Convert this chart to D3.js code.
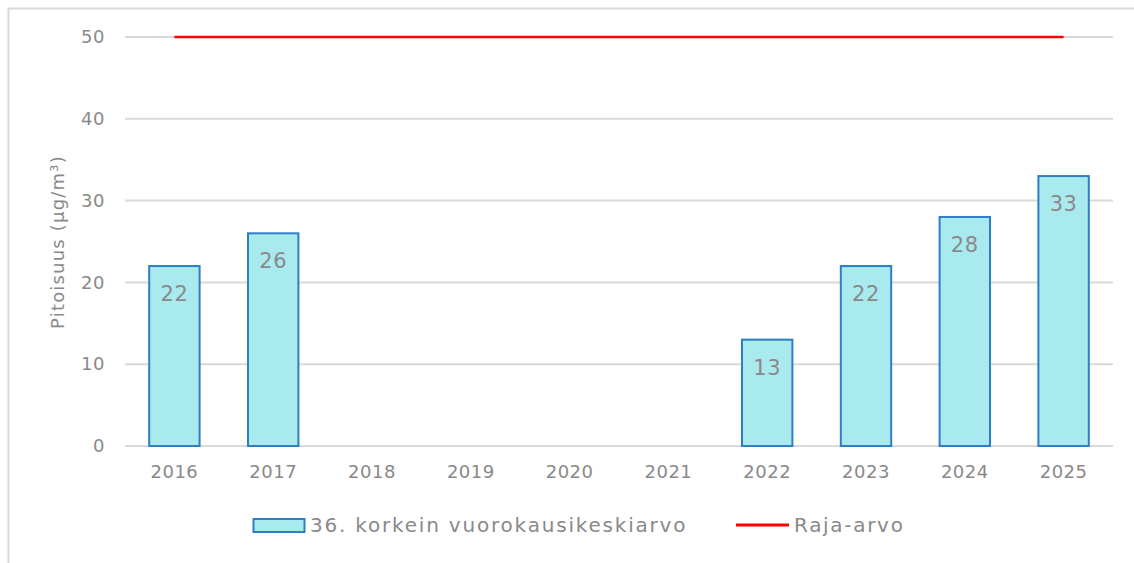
<!DOCTYPE html>
<html>
<head>
<meta charset="utf-8">
<script src="https://cdn.jsdelivr.net/npm/d3@7"></script>
<style>
  body { margin: 0; background: #fff; }
  svg { font-family: "DejaVu Sans", sans-serif; }
</style>
</head>
<body>
<svg id="svg" width="1134" height="563"></svg>
<script>
var years = ["2016", "2017", "2018", "2019", "2020", "2021", "2022", "2023", "2024", "2025"];
var values = [22, 26, null, null, null, null, 13, 22, 28, 33];
var limit = [50, 50, 50, 50, 50, 50, 50, 50, 50, 50];
var yTicks = [0, 10, 20, 30, 40, 50];

var svg = d3.select("#svg");
var textColor = "#898989";

// chart frame
svg.append("rect")
  .attr("x", 8.5).attr("y", 8.5)
  .attr("width", 1140).attr("height", 570)
  .attr("fill", "none").attr("stroke", "#d9d9d9").attr("stroke-width", 2);

var plotLeft = 125, plotRight = 1113, plotTop = 37, plotBottom = 446;

var x = d3.scaleBand().domain(years).range([plotLeft, plotRight]).paddingInner(0.49).paddingOuter(0.245);
var y = d3.scaleLinear().domain([0, 50]).range([plotBottom, plotTop]);

// gridlines
svg.append("g").selectAll("line").data(yTicks).join("line")
  .attr("x1", plotLeft).attr("x2", plotRight)
  .attr("y1", function(d) { return y(d); })
  .attr("y2", function(d) { return y(d); })
  .attr("stroke", "#d9d9d9").attr("stroke-width", 2);

// y axis labels
var yAxis = d3.axisLeft(y).tickValues(yTicks).tickSize(0).tickPadding(20);
svg.append("g").attr("transform", "translate(" + plotLeft + ",0)").call(yAxis)
  .call(function(g) { g.select(".domain").remove(); })
  .selectAll("text").attr("fill", textColor).attr("font-size", 18)
  .attr("font-family", "DejaVu Sans").attr("letter-spacing", 0.6);

// x axis labels
var xAxis = d3.axisBottom(x).tickSize(0).tickPadding(19);
svg.append("g").attr("transform", "translate(0," + plotBottom + ")").call(xAxis)
  .call(function(g) { g.select(".domain").remove(); })
  .selectAll("text").attr("fill", textColor).attr("font-size", 18)
  .attr("font-family", "DejaVu Sans").attr("letter-spacing", 0.5);

// axis title
svg.append("text")
  .attr("transform", "translate(64,242) rotate(-90)")
  .attr("text-anchor", "middle")
  .attr("fill", textColor).attr("font-size", 18).attr("letter-spacing", 1.2)
  .text("Pitoisuus (µg/m³)");

var data = years.map(function(d, i) { return { year: d, value: values[i] }; })
  .filter(function(d) { return d.value != null; });

// bars
svg.append("g").selectAll("rect").data(data).join("rect")
  .attr("x", function(d) { return x(d.year); })
  .attr("y", function(d) { return y(d.value); })
  .attr("width", x.bandwidth())
  .attr("height", function(d) { return plotBottom - y(d.value); })
  .attr("fill", "#a9eaef").attr("stroke", "#2e7ec4").attr("stroke-width", 2);

// bar labels
svg.append("g").selectAll("text").data(data).join("text")
  .attr("x", function(d) { return x(d.year) + x.bandwidth() / 2; })
  .attr("y", function(d) { return y(d.value) + 35; })
  .attr("text-anchor", "middle")
  .attr("fill", textColor).attr("font-size", 21).attr("letter-spacing", 0.6)
  .text(function(d) { return d.value; });

// limit line
var line = d3.line()
  .x(function(d, i) { return x(years[i]) + x.bandwidth() / 2; })
  .y(function(d) { return y(d); });
svg.append("path").datum(limit)
  .attr("d", line).attr("fill", "none")
  .attr("stroke", "#ff0000").attr("stroke-width", 2.5);

// legend
var lg = svg.append("g");
lg.append("rect").attr("x", 253.5).attr("y", 519).attr("width", 51).attr("height", 13)
  .attr("fill", "#a9eaef").attr("stroke", "#2e7ec4").attr("stroke-width", 2);
lg.append("text").attr("x", 310).attr("y", 532)
  .attr("fill", textColor).attr("font-size", 20).attr("letter-spacing", 1.8)
  .text("36. korkein vuorokausikeskiarvo");
lg.append("line").attr("x1", 736).attr("x2", 789).attr("y1", 525).attr("y2", 525)
  .attr("stroke", "#ff0000").attr("stroke-width", 3);
lg.append("text").attr("x", 794).attr("y", 532)
  .attr("fill", textColor).attr("font-size", 20).attr("letter-spacing", 1.7)
  .text("Raja-arvo");
</script>
</body>
</html>
